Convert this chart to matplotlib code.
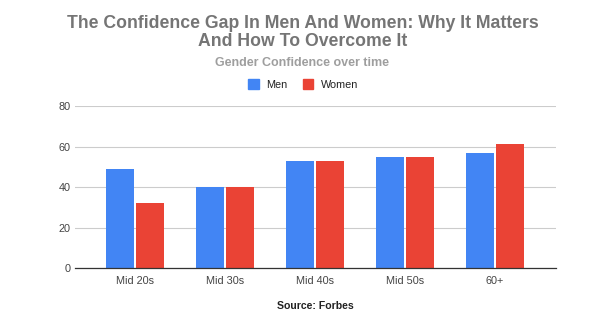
"""
plot.py: Gender confidence over time, grouped bars
"""
import matplotlib
matplotlib.use("Agg")
import matplotlib.pyplot as plt
import numpy as np
from matplotlib.patches import Patch

plt.rcParams['font.family'] = ['Liberation Sans', 'DejaVu Sans']

categories = ["Mid 20s", "Mid 30s", "Mid 40s", "Mid 50s", "60+"]
men = [49, 40, 53, 55, 57]
women = [32, 40, 53, 55, 61]
yticks = [0, 20, 40, 60, 80]

blue = "#4285f4"
red = "#ea4335"

fig = plt.figure(figsize=(6, 3.24), dpi=100)
ax = fig.add_axes([0.125, 0.1728, 0.8017, 0.5])

x = np.arange(len(categories))
w = 0.303
ax.bar(x - w / 2 - 0.015, men, w, color=blue)
ax.bar(x + w / 2 + 0.015, women, w, color=red)

ax.set_xlim(-0.667, 4.678)
ax.set_ylim(0, 80)
ax.set_yticks(yticks)
ax.set_xticks(x)
ax.set_xticklabels(categories)
ax.tick_params(axis='both', length=0, labelsize=7.8, labelcolor="#444444")
ax.tick_params(axis='y', pad=3)
ax.tick_params(axis='x', pad=5.5)
ax.grid(axis='y', color="#cccccc", linewidth=0.8)
ax.set_axisbelow(True)
for s in ["top", "right", "left"]:
    ax.spines[s].set_visible(False)
ax.spines["bottom"].set_color("#333333")
ax.spines["bottom"].set_linewidth(0.9)

# multi-line text: baseline refers to the last line
fig.text(0.505, 1 - 45.5 / 324, "The Confidence Gap In Men And Women: Why It Matters\nAnd How To Overcome It",
         ha="center", va="baseline", fontsize=12.7, fontweight="bold", color="#757575",
         linespacing=1.0)
fig.text(0.504, 1 - 65.7 / 324, "Gender Confidence over time", ha="center", va="baseline",
         fontsize=9, fontweight="bold", color="#9e9e9e")
fig.text(0.525, 1 - 309 / 324, "Source: Forbes", ha="center", va="baseline",
         fontsize=7.6, fontweight="bold", color="#222222")

handles = [Patch(color=blue, label="Men"), Patch(color=red, label="Women")]
fig.legend(handles=handles, loc="center", bbox_to_anchor=(0.505, 1 - 84.6 / 324), ncol=2,
           frameon=False, fontsize=7.8, handlelength=1.0, handleheight=1.0,
           handletextpad=0.7, columnspacing=1.4, labelcolor="#222222")

fig.savefig("out.png", dpi=100)
